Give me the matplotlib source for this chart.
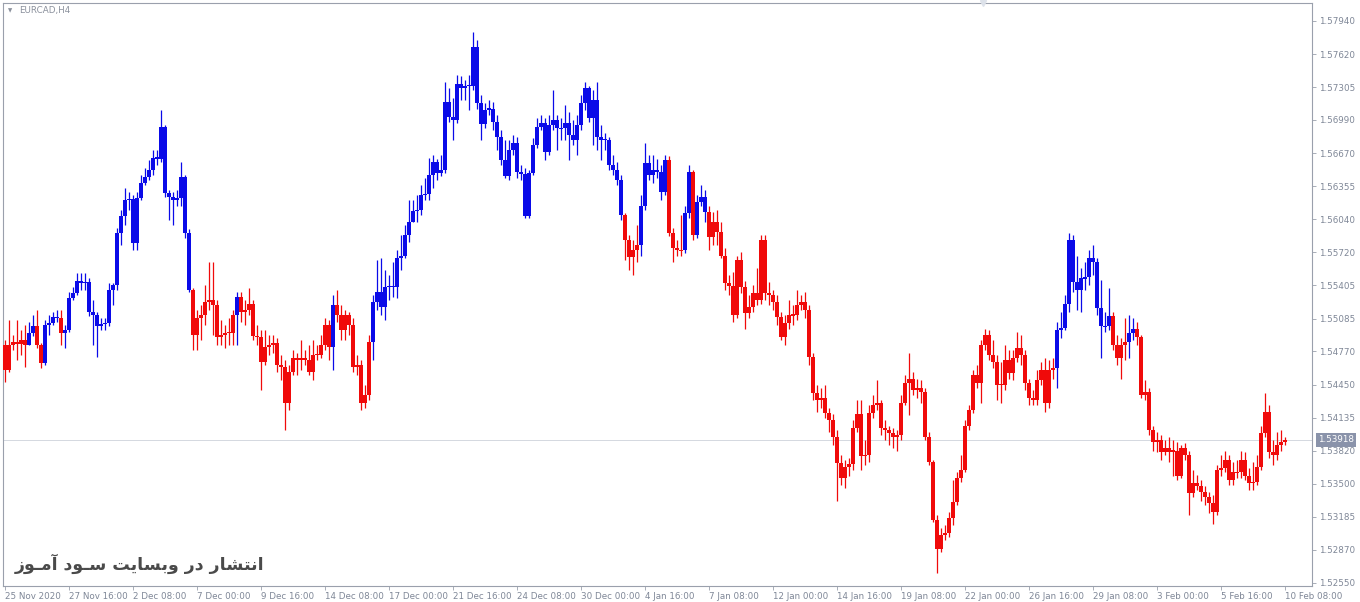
import numpy as np
import matplotlib
matplotlib.use("Agg")
import matplotlib.pyplot as plt


# ---- data ----
symbol = "EURCAD,H4"
watermark = "انتشار در وبسایت سـود آمـوز"
last_price = 1.53918
first_open = 1.5483

closes = [
    1.5459, 1.5483, 1.5486, 1.5484, 1.5488, 1.5483, 1.5495, 1.5501, 1.5483, 1.5466,
    1.5502, 1.5504, 1.5510, 1.5509, 1.5495, 1.5498, 1.5528, 1.5533, 1.5545, 1.5543,
    1.5544, 1.5515, 1.5512, 1.5501, 1.5503, 1.5504, 1.5536, 1.5541, 1.5591, 1.5607,
    1.5622, 1.5623, 1.5581, 1.5624, 1.5639, 1.5644, 1.5651, 1.5663, 1.5662, 1.5692,
    1.5629, 1.5625, 1.5622, 1.5624, 1.5644, 1.5591, 1.5536, 1.5493, 1.5509, 1.5512,
    1.5524, 1.5526, 1.5522, 1.5491, 1.5493, 1.5495, 1.5495, 1.5512, 1.5529, 1.5515,
    1.5517, 1.5523, 1.5492, 1.5491, 1.5467, 1.5481, 1.5483, 1.5485, 1.5464, 1.5462,
    1.5428, 1.5457, 1.5471, 1.5469, 1.5471, 1.5469, 1.5457, 1.5474, 1.5474, 1.5483,
    1.5502, 1.5481, 1.5522, 1.5512, 1.5498, 1.5512, 1.5502, 1.5462, 1.5464, 1.5428,
    1.5435, 1.5486, 1.5524, 1.5534, 1.5520, 1.5539, 1.5540, 1.5539, 1.5567, 1.5569,
    1.5589, 1.5601, 1.5612, 1.5613, 1.5627, 1.5628, 1.5646, 1.5659, 1.5648, 1.5651,
    1.5716, 1.5702, 1.5699, 1.5734, 1.5730, 1.5732, 1.5732, 1.5769, 1.5715, 1.5695,
    1.5709, 1.5710, 1.5697, 1.5683, 1.5661, 1.5645, 1.5670, 1.5677, 1.5649, 1.5647,
    1.5607, 1.5648, 1.5675, 1.5692, 1.5696, 1.5668, 1.5694, 1.5699, 1.5691, 1.5691,
    1.5696, 1.5685, 1.5680, 1.5694, 1.5715, 1.5730, 1.5701, 1.5718, 1.5683, 1.5680,
    1.5680, 1.5656, 1.5651, 1.5641, 1.5608, 1.5584, 1.5568, 1.5574, 1.5579, 1.5617,
    1.5658, 1.5646, 1.5651, 1.5649, 1.5630, 1.5661, 1.5591, 1.5576, 1.5574, 1.5574,
    1.5610, 1.5649, 1.5589, 1.5620, 1.5625, 1.5611, 1.5587, 1.5601, 1.5592, 1.5569,
    1.5543, 1.5540, 1.5512, 1.5565, 1.5539, 1.5514, 1.5520, 1.5533, 1.5526, 1.5584,
    1.5533, 1.5531, 1.5524, 1.5510, 1.5491, 1.5504, 1.5512, 1.5512, 1.5522, 1.5524,
    1.5517, 1.5472, 1.5437, 1.5430, 1.5432, 1.5418, 1.5411, 1.5395, 1.5370, 1.5356,
    1.5366, 1.5369, 1.5404, 1.5417, 1.5377, 1.5378, 1.5418, 1.5426, 1.5428, 1.5404,
    1.5402, 1.5399, 1.5395, 1.5397, 1.5428, 1.5447, 1.5451, 1.5440, 1.5442, 1.5438,
    1.5395, 1.5371, 1.5315, 1.5288, 1.5301, 1.5303, 1.5317, 1.5333, 1.5356, 1.5363,
    1.5406, 1.5421, 1.5454, 1.5447, 1.5483, 1.5493, 1.5474, 1.5467, 1.5445, 1.5445,
    1.5469, 1.5456, 1.5471, 1.5480, 1.5474, 1.5447, 1.5432, 1.5430, 1.5450, 1.5459,
    1.5428, 1.5459, 1.5461, 1.5498, 1.5500, 1.5523, 1.5584, 1.5544, 1.5536, 1.5547,
    1.5548, 1.5567, 1.5563, 1.5519, 1.5501, 1.5501, 1.5511, 1.5483, 1.5471, 1.5483,
    1.5486, 1.5495, 1.5499, 1.5491, 1.5435, 1.5438, 1.5402, 1.5390, 1.5392, 1.5381,
    1.5384, 1.5381, 1.5382, 1.5358, 1.5384, 1.5378, 1.5341, 1.5351, 1.5348, 1.5342,
    1.5337, 1.5332, 1.5323, 1.5363, 1.5365, 1.5373, 1.5354, 1.5361, 1.5361, 1.5373,
    1.5358, 1.5351, 1.5352, 1.5366, 1.5399, 1.5419, 1.5381, 1.5378, 1.5387, 1.5390,
    1.5392,
]

highs = [
    1.5488, 1.5507, 1.5493, 1.5507, 1.5498, 1.5502, 1.5505, 1.5512, 1.5517, 1.5485,
    1.5507, 1.5512, 1.5515, 1.5517, 1.5517, 1.5502, 1.5534, 1.5539, 1.5552, 1.5552,
    1.5552, 1.5547, 1.5526, 1.5515, 1.5509, 1.5509, 1.5543, 1.5543, 1.5595, 1.5613,
    1.5634, 1.5630, 1.5627, 1.5630, 1.5646, 1.5653, 1.5661, 1.5670, 1.5670, 1.5709,
    1.5694, 1.5632, 1.5630, 1.5632, 1.5659, 1.5646, 1.5594, 1.5538, 1.5517, 1.5522,
    1.5541, 1.5563, 1.5563, 1.5526, 1.5507, 1.5502, 1.5509, 1.5517, 1.5534, 1.5534,
    1.5526, 1.5538, 1.5526, 1.5502, 1.5498, 1.5498, 1.5493, 1.5493, 1.5490, 1.5474,
    1.5469, 1.5464, 1.5478, 1.5476, 1.5488, 1.5478, 1.5483, 1.5488, 1.5483, 1.5493,
    1.5509, 1.5507, 1.5531, 1.5536, 1.5522, 1.5517, 1.5515, 1.5509, 1.5474, 1.5469,
    1.5445, 1.5493, 1.5531, 1.5565, 1.5567, 1.5555, 1.5550, 1.5563, 1.5574, 1.5589,
    1.5598, 1.5622, 1.5622, 1.5627, 1.5637, 1.5643, 1.5663, 1.5665, 1.5662, 1.5665,
    1.5735, 1.5730, 1.5720, 1.5742, 1.5741, 1.5737, 1.5742, 1.5783, 1.5776, 1.5723,
    1.5715, 1.5718, 1.5716, 1.5704, 1.5689, 1.5680, 1.5680, 1.5685, 1.5683, 1.5656,
    1.5653, 1.5651, 1.5682, 1.5701, 1.5704, 1.5701, 1.5704, 1.5728, 1.5704, 1.5701,
    1.5713, 1.5707, 1.5699, 1.5704, 1.5723, 1.5735, 1.5732, 1.5728, 1.5735, 1.5694,
    1.5687, 1.5683, 1.5665, 1.5659, 1.5646, 1.5610, 1.5589, 1.5584, 1.5598, 1.5627,
    1.5677, 1.5665, 1.5665, 1.5662, 1.5656, 1.5665, 1.5664, 1.5595, 1.5584, 1.5608,
    1.5617, 1.5656, 1.5651, 1.5627, 1.5637, 1.5632, 1.5617, 1.5611, 1.5613, 1.5601,
    1.5576, 1.5550, 1.5553, 1.5569, 1.5572, 1.5545, 1.5531, 1.5541, 1.5557, 1.5589,
    1.5589, 1.5544, 1.5536, 1.5531, 1.5515, 1.5512, 1.5526, 1.5522, 1.5536, 1.5531,
    1.5534, 1.5522, 1.5476, 1.5445, 1.5442, 1.5445, 1.5423, 1.5417, 1.5402, 1.5378,
    1.5373, 1.5375, 1.5411, 1.5430, 1.5430, 1.5392, 1.5426, 1.5435, 1.5450, 1.5430,
    1.5411, 1.5406, 1.5404, 1.5402, 1.5435, 1.5454, 1.5476, 1.5457, 1.5451, 1.5450,
    1.5442, 1.5400, 1.5373, 1.5320, 1.5308, 1.5311, 1.5323, 1.5354, 1.5361, 1.5378,
    1.5411, 1.5426, 1.5459, 1.5464, 1.5488, 1.5499, 1.5498, 1.5488, 1.5474, 1.5467,
    1.5483, 1.5478, 1.5478, 1.5496, 1.5493, 1.5478, 1.5451, 1.5440, 1.5459, 1.5467,
    1.5471, 1.5469, 1.5471, 1.5505, 1.5515, 1.5531, 1.5591, 1.5589, 1.5569, 1.5557,
    1.5563, 1.5574, 1.5579, 1.5567, 1.5546, 1.5515, 1.5538, 1.5515, 1.5493, 1.5490,
    1.5509, 1.5512, 1.5509, 1.5505, 1.5493, 1.5450, 1.5442, 1.5406, 1.5400, 1.5397,
    1.5392, 1.5395, 1.5392, 1.5390, 1.5387, 1.5389, 1.5382, 1.5363, 1.5359, 1.5354,
    1.5348, 1.5342, 1.5339, 1.5368, 1.5378, 1.5382, 1.5378, 1.5371, 1.5373, 1.5382,
    1.5381, 1.5365, 1.5371, 1.5378, 1.5406, 1.5437, 1.5426, 1.5392, 1.5400, 1.5402,
    1.5395,
]

lows = [
    1.5448, 1.5457, 1.5478, 1.5469, 1.5474, 1.5462, 1.5483, 1.5492, 1.5480, 1.5461,
    1.5464, 1.5493, 1.5502, 1.5505, 1.5483, 1.5480, 1.5496, 1.5526, 1.5531, 1.5536,
    1.5536, 1.5511, 1.5483, 1.5472, 1.5498, 1.5498, 1.5501, 1.5522, 1.5536, 1.5579,
    1.5598, 1.5613, 1.5574, 1.5574, 1.5622, 1.5637, 1.5641, 1.5646, 1.5656, 1.5659,
    1.5625, 1.5603, 1.5598, 1.5617, 1.5617, 1.5586, 1.5534, 1.5478, 1.5478, 1.5488,
    1.5502, 1.5517, 1.5493, 1.5483, 1.5483, 1.5480, 1.5483, 1.5483, 1.5483, 1.5505,
    1.5502, 1.5512, 1.5488, 1.5483, 1.5440, 1.5464, 1.5474, 1.5476, 1.5457, 1.5450,
    1.5402, 1.5421, 1.5454, 1.5454, 1.5459, 1.5464, 1.5454, 1.5450, 1.5469, 1.5471,
    1.5478, 1.5469, 1.5459, 1.5505, 1.5488, 1.5488, 1.5493, 1.5457, 1.5454, 1.5421,
    1.5423, 1.5430, 1.5469, 1.5517, 1.5512, 1.5507, 1.5526, 1.5529, 1.5528, 1.5555,
    1.5567, 1.5582, 1.5603, 1.5601, 1.5608, 1.5622, 1.5622, 1.5634, 1.5641, 1.5645,
    1.5648, 1.5697, 1.5680, 1.5696, 1.5718, 1.5718, 1.5709, 1.5728, 1.5710, 1.5680,
    1.5691, 1.5704, 1.5689, 1.5670, 1.5656, 1.5643, 1.5641, 1.5665, 1.5643, 1.5641,
    1.5605, 1.5605, 1.5646, 1.5672, 1.5689, 1.5661, 1.5665, 1.5689, 1.5670, 1.5680,
    1.5680, 1.5661, 1.5675, 1.5665, 1.5689, 1.5709, 1.5697, 1.5675, 1.5670, 1.5661,
    1.5670, 1.5651, 1.5646, 1.5637, 1.5603, 1.5565, 1.5555, 1.5550, 1.5563, 1.5569,
    1.5613, 1.5641, 1.5639, 1.5643, 1.5622, 1.5627, 1.5588, 1.5563, 1.5569, 1.5569,
    1.5571, 1.5605, 1.5584, 1.5586, 1.5617, 1.5601, 1.5574, 1.5579, 1.5579, 1.5567,
    1.5536, 1.5531, 1.5505, 1.5509, 1.5533, 1.5499, 1.5509, 1.5515, 1.5522, 1.5523,
    1.5526, 1.5522, 1.5517, 1.5502, 1.5488, 1.5483, 1.5499, 1.5502, 1.5507, 1.5517,
    1.5509, 1.5464, 1.5430, 1.5419, 1.5423, 1.5413, 1.5400, 1.5387, 1.5334, 1.5349,
    1.5346, 1.5358, 1.5363, 1.5400, 1.5363, 1.5368, 1.5371, 1.5413, 1.5421, 1.5397,
    1.5392, 1.5387, 1.5384, 1.5382, 1.5392, 1.5426, 1.5416, 1.5435, 1.5432, 1.5428,
    1.5392, 1.5368, 1.5313, 1.5265, 1.5285, 1.5296, 1.5299, 1.5311, 1.5330, 1.5352,
    1.5361, 1.5402, 1.5418, 1.5442, 1.5428, 1.5478, 1.5469, 1.5461, 1.5430, 1.5428,
    1.5440, 1.5451, 1.5450, 1.5467, 1.5464, 1.5440, 1.5426, 1.5426, 1.5426, 1.5445,
    1.5419, 1.5423, 1.5451, 1.5442, 1.5490, 1.5498, 1.5515, 1.5534, 1.5517, 1.5515,
    1.5536, 1.5541, 1.5550, 1.5512, 1.5471, 1.5496, 1.5498, 1.5478, 1.5464, 1.5451,
    1.5469, 1.5471, 1.5488, 1.5483, 1.5432, 1.5430, 1.5397, 1.5382, 1.5381, 1.5373,
    1.5378, 1.5371, 1.5358, 1.5354, 1.5356, 1.5373, 1.5320, 1.5337, 1.5344, 1.5334,
    1.5330, 1.5322, 1.5312, 1.5320, 1.5358, 1.5361, 1.5349, 1.5349, 1.5356, 1.5356,
    1.5354, 1.5344, 1.5344, 1.5349, 1.5363, 1.5395, 1.5375, 1.5368, 1.5373, 1.5382,
    1.5387,
]

# colour of the bars (trend colouring), as runs of (colour, number of bars)
trend_runs = [
    ("R", 6), ("B", 2), ("R", 2), ("B", 4), ("R", 1), ("B", 32), ("R", 11),
    ("B", 1), ("R", 23), ("B", 1), ("R", 9), ("B", 63), ("R", 4), ("B", 7),
    ("R", 4), ("B", 2), ("R", 1), ("B", 3), ("R", 87), ("B", 14), ("R", 4),
    ("B", 2), ("R", 38),
]

price_ticks = [1.57940, 1.57620, 1.57305, 1.56990, 1.56670, 1.56355, 1.56040,
               1.55720, 1.55405, 1.55085, 1.54770, 1.54450, 1.54135, 1.53820,
               1.53500, 1.53185, 1.52870, 1.52550]

time_labels = ["25 Nov 2020", "27 Nov 16:00", "2 Dec 08:00", "7 Dec 00:00",
               "9 Dec 16:00", "14 Dec 08:00", "17 Dec 00:00", "21 Dec 16:00",
               "24 Dec 08:00", "30 Dec 00:00", "4 Jan 16:00", "7 Jan 08:00",
               "12 Jan 00:00", "14 Jan 16:00", "19 Jan 08:00", "22 Jan 00:00",
               "26 Jan 16:00", "29 Jan 08:00", "3 Feb 00:00", "5 Feb 16:00",
               "10 Feb 08:00"]


# ---- tiny arabic/persian shaper (matplotlib does no shaping) ----
FORMS = {  # isolated, final, initial, medial
    "ا": ("\uFE8D", "\uFE8E", None, None),
    "آ": ("\uFE81", "\uFE82", None, None),
    "ر": ("\uFEAD", "\uFEAE", None, None),
    "د": ("\uFEA9", "\uFEAA", None, None),
    "ز": ("\uFEAF", "\uFEB0", None, None),
    "و": ("\uFEED", "\uFEEE", None, None),
    "ب": ("\uFE8F", "\uFE90", "\uFE91", "\uFE92"),
    "ت": ("\uFE95", "\uFE96", "\uFE97", "\uFE98"),
    "ن": ("\uFEE5", "\uFEE6", "\uFEE7", "\uFEE8"),
    "ش": ("\uFEB5", "\uFEB6", "\uFEB7", "\uFEB8"),
    "س": ("\uFEB1", "\uFEB2", "\uFEB3", "\uFEB4"),
    "م": ("\uFEE1", "\uFEE2", "\uFEE3", "\uFEE4"),
    "ی": ("\uFBFC", "\uFBFD", "\uFEF3", "\uFEF4"),
}
TATWEEL = "\u0640"


def joins_forward(ch):
    return ch == TATWEEL or (ch in FORMS and FORMS[ch][2] is not None)


def is_letter(ch):
    return ch == TATWEEL or ch in FORMS


def shape(text):
    out = []
    for i, ch in enumerate(text):
        if ch not in FORMS:
            out.append(ch)
            continue
        prev = text[i - 1] if i > 0 else " "
        nxt = text[i + 1] if i + 1 < len(text) else " "
        jp = joins_forward(prev)
        jn = joins_forward(ch) and is_letter(nxt)
        iso, fin, ini, med = FORMS[ch]
        if jp and jn:
            out.append(med)
        elif jp:
            out.append(fin)
        elif jn:
            out.append(ini)
        else:
            out.append(iso)
    return "".join(reversed(out))


# ---- build candles ----
n = len(closes)
x = np.arange(n)
c = np.array(closes)
o = np.r_[first_open, c[:-1]]
h = np.maximum(np.array(highs), np.maximum(o, c))
l = np.minimum(np.array(lows), np.minimum(o, c))

palette = {"B": "#0a0ae8", "R": "#f00a0a"}
cols = []
for col, cnt in trend_runs:
    cols += [palette[col]] * cnt

fig = plt.figure(figsize=(13.6, 6.02), dpi=100)
fig.patch.set_facecolor("white")
ax = fig.add_axes([3 / 1360, 16 / 602, 1309 / 1360, 583 / 602])

ax.axhline(last_price, color="#d4d8e0", lw=0.7, zorder=1)

ax.vlines(x, l, h, colors=cols, linewidth=0.9, zorder=2)
body = np.abs(c - o)
bh = np.maximum(body, 0.00012)
ax.bar(x, bh, bottom=np.minimum(o, c) - (bh - body) / 2, width=0.78,
       color=cols, linewidth=0, zorder=3)

ax.set_xlim(-0.5, 326.75)
ax.set_ylim(1.52521, 1.58112)

# axes look of the terminal
for s in ax.spines.values():
    s.set_color("#9aa0ac")
    s.set_linewidth(0.8)

grey = "#7f8797"
ax.yaxis.tick_right()
ax.set_yticks(price_ticks)
ax.set_yticklabels([f"{v:.5f}" for v in price_ticks])
ax.tick_params(axis="y", direction="out", length=3, width=0.6, color="#9aa0ac",
               labelsize=6.3, labelcolor=grey, pad=2)

ax.set_xticks(np.arange(0, n, 16))
ax.set_xticklabels(time_labels)
ax.tick_params(axis="x", direction="out", length=3, width=0.6, color="#9aa0ac",
               labelsize=6.3, labelcolor=grey, pad=1)
for lbl in ax.get_xticklabels():
    lbl.set_horizontalalignment("left")

# current price tag
fig.text(1336 / 1360, 1 - 440 / 602, f"{last_price:.5f}", ha="center", va="center",
         fontsize=6.3, color="white",
         bbox=dict(boxstyle="square,pad=0.25", fc="#8a93aa", ec="none"))

# chart title
fig.text(8 / 1360, 1 - 11 / 602, "\u25BC", fontsize=4, color="#8a909c",
         ha="left", va="center")
fig.text(19 / 1360, 1 - 11 / 602, symbol, fontsize=6.3, color="#8a909c",
         ha="left", va="center")

# shift marker on the top edge
ax.plot([(983 - 3) / 1309], [1.0], marker="v", ms=5, color="#dde2ea",
        transform=ax.transAxes, clip_on=False, zorder=5)

# watermark
fig.text(15 / 1360, 1 - 564 / 602, shape(watermark), fontsize=12.5,
         fontweight="bold", family=["DejaVu Sans"], color="#4a4a4a",
         ha="left", va="center")

fig.savefig("out.png", dpi=100, facecolor="white")
